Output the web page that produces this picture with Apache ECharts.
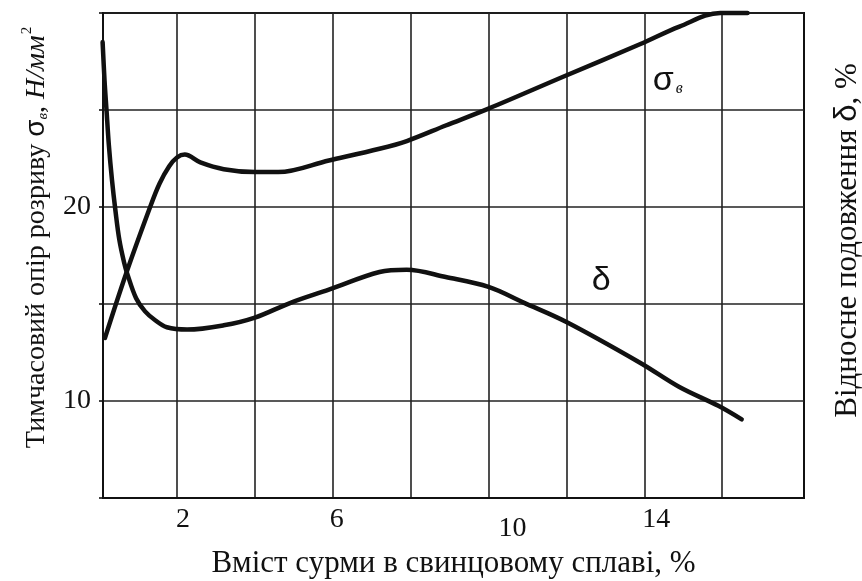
<!DOCTYPE html>
<html>
<head>
<meta charset="utf-8">
<script src="https://cdn.jsdelivr.net/npm/echarts@6/dist/echarts.min.js"></script>
<style>
  html, body { margin: 0; padding: 0; background: #fff; }
  #chart { width: 862px; height: 581px; }
</style>
</head>
<body>
<div id="chart"></div>
<script>
// Antimony content in the lead alloy, %
const sigmaX = [0.15, 0.69, 1.31, 1.55, 1.8, 2.0, 2.2, 2.6, 3.2, 4.0, 4.6, 5.9, 7.2, 7.9, 8.9, 10.0, 11.9, 13.9, 14.9, 15.95, 16.65];
// Ultimate tensile strength σв, Н/мм²
const sigmaY = [13.25, 16.55, 20.0, 21.2, 22.1, 22.55, 22.7, 22.3, 21.95, 21.8, 21.8, 22.4, 23.0, 23.4, 24.2, 25.07, 26.7, 28.4, 29.3, 30.0, 30.0];

const deltaX = [0.09, 0.14, 0.19, 0.25, 0.33, 0.42, 0.52, 0.64, 0.72, 0.95, 1.18, 1.44, 1.74, 2.26, 3.2, 4.0, 4.9, 5.9, 7.2, 7.9, 8.9, 10.0, 10.9, 12.0, 13.9, 14.9, 15.9, 16.5];
// Relative elongation δ, %
const deltaY = [28.5, 26.5, 25.0, 23.2, 21.4, 19.8, 18.3, 17.15, 16.58, 15.3, 14.62, 14.16, 13.8, 13.68, 13.9, 14.3, 15.05, 15.74, 16.65, 16.77, 16.39, 15.88, 15.07, 14.07, 11.96, 10.72, 9.75, 9.05];

const xGridValues = [2, 4, 6, 8, 10, 12, 14, 16];
const xTickLabels = [2, 6, 10, 14];
const yTickLabels = [10, 20];

const serif = '"Liberation Serif", "Times New Roman", serif';
const sans = '"Liberation Sans", Arial, sans-serif';
const ink = '#111';

const zip = (xs, ys) => xs.map((x, i) => [x, ys[i]]);

const chart = echarts.init(document.getElementById('chart'), null, { renderer: 'canvas' });

chart.setOption({
  backgroundColor: '#ffffff',
  animation: false,
  grid: {
    left: 103, right: 58, top: 13, bottom: 83,
    containLabel: false,
    outerBoundsMode: 'none',
    show: true, borderColor: ink, borderWidth: 2
  },
  xAxis: {
    type: 'value',
    min: 0.1, max: 18.1,
    name: 'Вміст сурми в свинцовому сплаві, %',
    nameLocation: 'middle',
    nameGap: 48,
    nameTextStyle: { fontFamily: serif, fontSize: 31, color: ink },
    axisLine: { show: true, lineStyle: { color: ink, width: 2 } },
    axisTick: { show: false, customValues: xGridValues },
    splitLine: { show: true, lineStyle: { color: '#222', width: 1.6 } },
    axisLabel: {
      customValues: xTickLabels,
      margin: 8,
      fontFamily: serif, fontSize: 28, color: ink,
      formatter: v => '{t' + v + '|' + v + '}',
      rich: {
        t2: { fontFamily: serif, fontSize: 28, color: ink, padding: [0, 0, 0, 12] },
        t6: { fontFamily: serif, fontSize: 28, color: ink, padding: [0, 0, 0, 8] },
        t10: { fontFamily: serif, fontSize: 28, color: ink, padding: [9, 0, 0, 48] },
        t14: { fontFamily: serif, fontSize: 28, color: ink, padding: [0, 0, 0, 24] }
      }
    }
  },
  yAxis: [
    {
      type: 'value',
      min: 5, max: 30, interval: 5,
      name: '{t|Тимчасовий опір розриву }{s|σ}{sub|в}{t|, }{i|Н/мм}{sup|2}',
      nameLocation: 'middle',
      nameGap: 50,
      nameRotate: 90,
      nameTextStyle: {
        padding: [0, 0, 0, 36],
        rich: {
          t: { fontFamily: serif, fontSize: 28, color: ink },
          s: { fontFamily: sans, fontSize: 28, color: ink },
          sub: { fontFamily: serif, fontStyle: 'italic', fontSize: 15, color: ink, padding: [14, 0, 0, 0] },
          i: { fontFamily: serif, fontStyle: 'italic', fontSize: 28, color: ink },
          sup: { fontFamily: serif, fontSize: 15, color: ink, padding: [0, 0, 18, 1] }
        }
      },
      axisLine: { show: true, lineStyle: { color: ink, width: 2 } },
      axisTick: { show: true, inside: false, length: 4, lineStyle: { color: ink, width: 1.6 } },
      splitLine: { show: true, lineStyle: { color: '#222', width: 1.6 } },
      axisLabel: {
        margin: 12,
        fontFamily: serif, fontSize: 28, color: ink,
        formatter: v => yTickLabels.includes(v) ? String(v) : ''
      }
    },
    {
      type: 'value',
      position: 'right',
      min: 5, max: 30, interval: 5,
      name: '{t|Відносне подовження }{s|δ}{t|, %}',
      nameLocation: 'middle',
      nameGap: 28,
      nameRotate: 90,
      nameTextStyle: {
        padding: [0, 0, 0, 30],
        rich: {
          t: { fontFamily: serif, fontSize: 31, color: ink },
          s: { fontFamily: sans, fontSize: 31, color: ink }
        }
      },
      axisLine: { show: false },
      axisTick: { show: false },
      axisLabel: { show: false },
      splitLine: { show: false }
    }
  ],
  series: [
    {
      name: 'σв',
      type: 'line',
      data: zip(sigmaX, sigmaY),
      smooth: 0.35,
      symbol: 'none',
      clip: false,
      lineStyle: { color: ink, width: 4.5, cap: 'round', join: 'round' },
      markPoint: {
        symbol: 'circle', symbolSize: 0,
        label: {
          show: true,
          formatter: '{s|σ}{sub|в}',
          rich: {
            s: { fontFamily: sans, fontSize: 34, color: ink },
            sub: { fontFamily: serif, fontStyle: 'italic', fontSize: 16, color: ink, padding: [16, 0, 0, 2] }
          }
        },
        data: [{ coord: [14.6, 26.5] }]
      }
    },
    {
      name: 'δ',
      type: 'line',
      data: zip(deltaX, deltaY),
      smooth: 0.35,
      symbol: 'none',
      clip: false,
      lineStyle: { color: ink, width: 4.5, cap: 'round', join: 'round' },
      markPoint: {
        symbol: 'circle', symbolSize: 0,
        label: {
          show: true,
          formatter: 'δ',
          fontFamily: sans, fontSize: 34, color: ink
        },
        data: [{ coord: [12.89, 16.2] }]
      }
    }
  ]
});
</script>
</body>
</html>
